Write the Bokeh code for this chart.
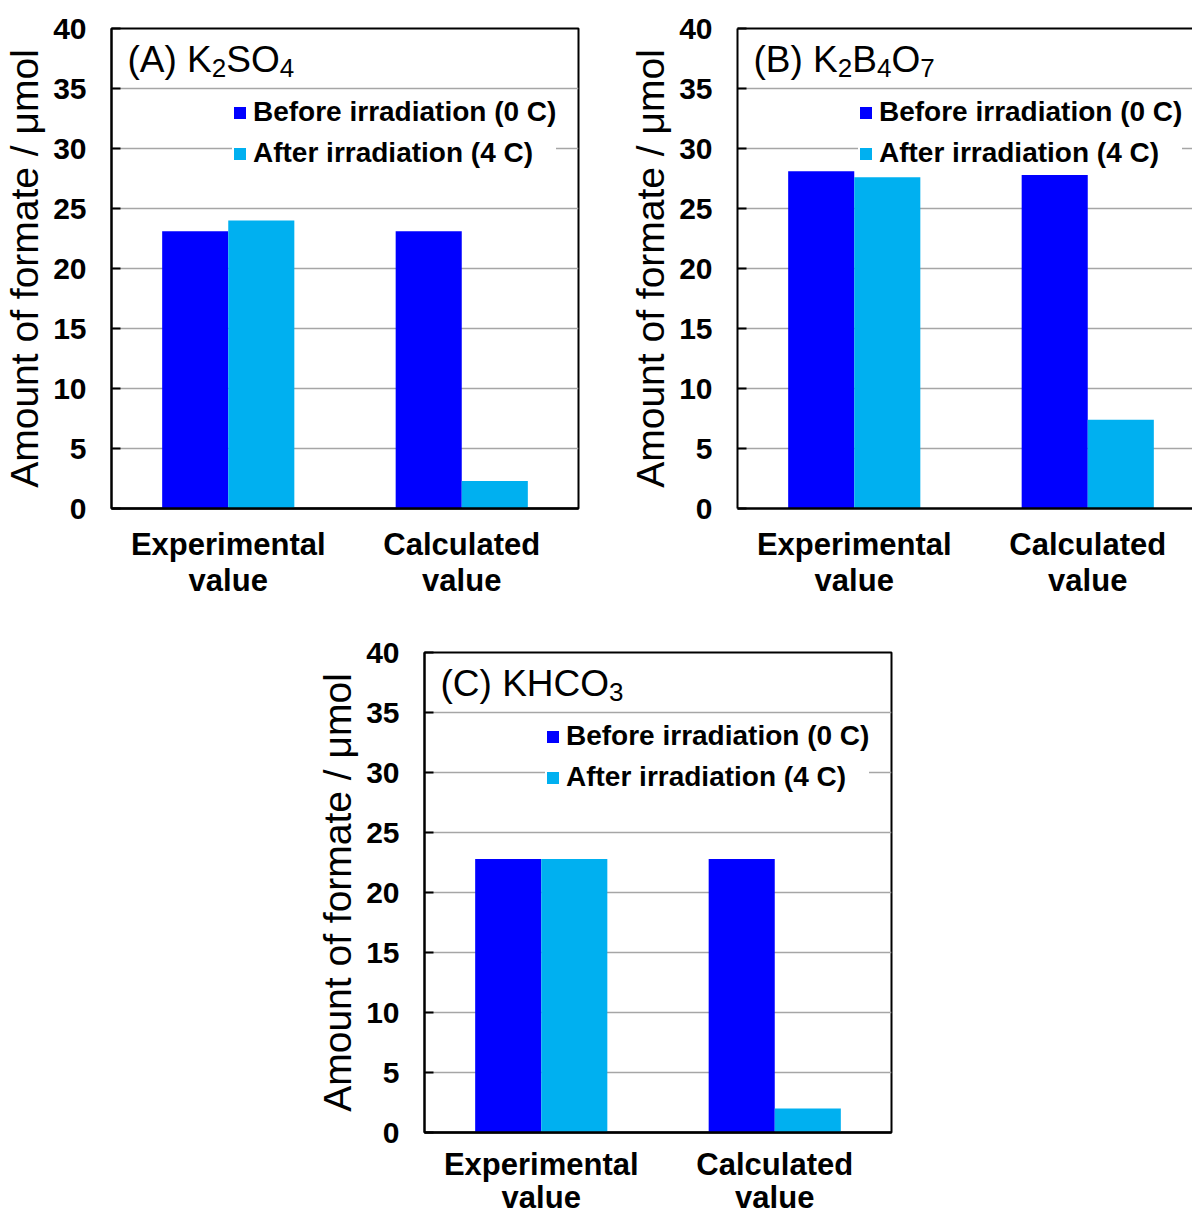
import numpy as np
from bokeh.plotting import figure
from bokeh.models import (ColumnDataSource, Range1d, FixedTicker, LinearAxis,
                          Legend, LegendItem, Label, Spacer)
from bokeh.transform import dodge
from bokeh.layouts import column, row
from bokeh.embed import file_html
from bokeh.resources import INLINE

# ---------------- data ----------------
categories = ["Experimental\nvalue", "Calculated\nvalue"]
series_names = ["Before irradiation (0 C)", "After irradiation (4 C)"]
series_colors = ["#0000FF", "#00B0F0"]
y_ticks = [0, 5, 10, 15, 20, 25, 30, 35, 40]
y_label = "Amount of formate / μmol"

before_A = [23.1, 23.1]
after_A = [24.0, 2.3]
before_B = [28.1, 27.8]
after_B = [27.6, 7.4]
before_C = [22.8, 22.8]
after_C = [22.8, 2.0]

title_A = [("(A) K", False), ("2", True), ("SO", False), ("4", True)]
title_B = [("(B) K", False), ("2", True), ("B", False), ("4", True), ("O", False), ("7", True)]
title_C = [("(C) KHCO", False), ("3", True)]

# ---------------- style ----------------
FONT = "Liberation Sans"
FRAME_W = 467
FRAME_H = 480
BAR_W = 0.283
ADV = {"(": .333, ")": .333, "A": .667, "B": .667, "C": .722, "K": .667, "H": .722,
       "S": .667, "O": .778, " ": .278, "2": .556, "3": .556, "4": .556, "7": .556}


def add_title(p, parts):
    x = 16
    for txt, sub in parts:
        size = 26 if sub else 37
        y = FRAME_H - 39 if sub else FRAME_H - 31
        p.add_layout(Label(x=x, y=y, x_units="screen", y_units="screen", text=txt,
                           text_font=FONT, text_font_size=f"{size}px",
                           text_baseline="alphabetic", text_align="left",
                           text_color="black"))
        x += sum(ADV[c] for c in txt) * size


def make_panel(before, after, title_parts, frame_w, left, right, top, bottom,
               clipped=False, xl_line_height=1.03, xl_standoff=12):
    xs = np.arange(len(categories)) + 0.5
    src = ColumnDataSource(dict(x=xs, before=before, after=after))
    x_end = len(categories) * frame_w / FRAME_W
    p = figure(width=left + frame_w + right, height=top + FRAME_H + bottom,
               frame_width=frame_w, frame_height=FRAME_H,
               min_border_left=left, min_border_right=right,
               min_border_top=top, min_border_bottom=bottom,
               x_range=Range1d(0, x_end), y_range=Range1d(0, 40),
               output_backend="svg", toolbar_location=None, tools="")
    r1 = p.vbar(x=dodge("x", -BAR_W / 2), top="before", width=BAR_W, source=src,
                fill_color=series_colors[0], line_color=None)
    r2 = p.vbar(x=dodge("x", BAR_W / 2), top="after", width=BAR_W, source=src,
                fill_color=series_colors[1], line_color=None)

    # x axis
    p.xaxis.ticker = FixedTicker(ticks=list(xs))
    p.xaxis.major_label_overrides = {float(v): c for v, c in zip(xs, categories)}
    p.xaxis.major_tick_line_color = None
    p.xaxis.minor_tick_line_color = None
    p.xaxis.axis_line_color = "black"
    p.xaxis.axis_line_width = 2.5
    p.xaxis.major_label_text_font = FONT
    p.xaxis.major_label_text_font_size = "31px"
    p.xaxis.major_label_text_font_style = "bold"
    p.xaxis.major_label_text_color = "black"
    p.xaxis.major_label_text_line_height = xl_line_height
    p.xaxis.major_label_standoff = xl_standoff

    # y axis
    p.yaxis.ticker = FixedTicker(ticks=y_ticks)
    p.yaxis.axis_label = y_label
    p.yaxis.axis_label_text_font = FONT
    p.yaxis.axis_label_text_font_size = "39px"
    p.yaxis.axis_label_text_font_style = "normal"
    p.yaxis.axis_label_text_color = "black"
    p.yaxis.axis_label_standoff = 4
    p.yaxis.major_label_text_font = FONT
    p.yaxis.major_label_text_font_size = "30px"
    p.yaxis.major_label_text_font_style = "bold"
    p.yaxis.major_label_text_color = "black"
    p.yaxis.major_label_standoff = 25
    p.yaxis.major_tick_in = 9
    p.yaxis.major_tick_out = 0
    p.yaxis.major_tick_line_width = 2
    p.yaxis.major_tick_line_color = "black"
    p.yaxis.minor_tick_line_color = None
    p.yaxis.axis_line_color = "black"
    p.yaxis.axis_line_width = 2

    # grid
    p.xgrid.visible = False
    p.ygrid.ticker = FixedTicker(ticks=y_ticks)
    p.ygrid.grid_line_color = "#a6a6a6"
    p.ygrid.grid_line_width = 1.5

    if clipped:
        p.outline_line_color = None
        top_axis = LinearAxis(ticker=FixedTicker(ticks=[]), major_label_text_font_size="0px",
                              major_tick_line_color=None, minor_tick_line_color=None,
                              axis_line_color="black", axis_line_width=2)
        p.add_layout(top_axis, "above")
    else:
        p.outline_line_color = "black"
        p.outline_line_width = 2
        p.outline_line_alpha = 1

    legend = Legend(items=[LegendItem(label=series_names[0], renderers=[r1]),
                           LegendItem(label=series_names[1], renderers=[r2])],
                    location=(121, 339), orientation="vertical",
                    glyph_width=15, glyph_height=15, label_standoff=6,
                    spacing=9, padding=6, margin=0,
                    label_text_font=FONT, label_text_font_size="28px",
                    label_text_font_style="bold", label_text_color="black",
                    border_line_color=None, background_fill_color="white",
                    background_fill_alpha=1)
    p.add_layout(legend)
    add_title(p, title_parts)
    return p


pA = make_panel(before_A, after_A, title_A, FRAME_W, 110, 19, 28, 92)
pB = make_panel(before_B, after_B, title_B, 456, 140, 0, 28, 92, clipped=True)
pC = make_panel(before_C, after_C, title_C, FRAME_W, 110, 19, 52, 83,
                xl_line_height=0.95, xl_standoff=8)

layout = column(row(pA, pB), row(Spacer(width=313, height=615), pC))

open("out.html", "w").write(file_html(layout, INLINE))
